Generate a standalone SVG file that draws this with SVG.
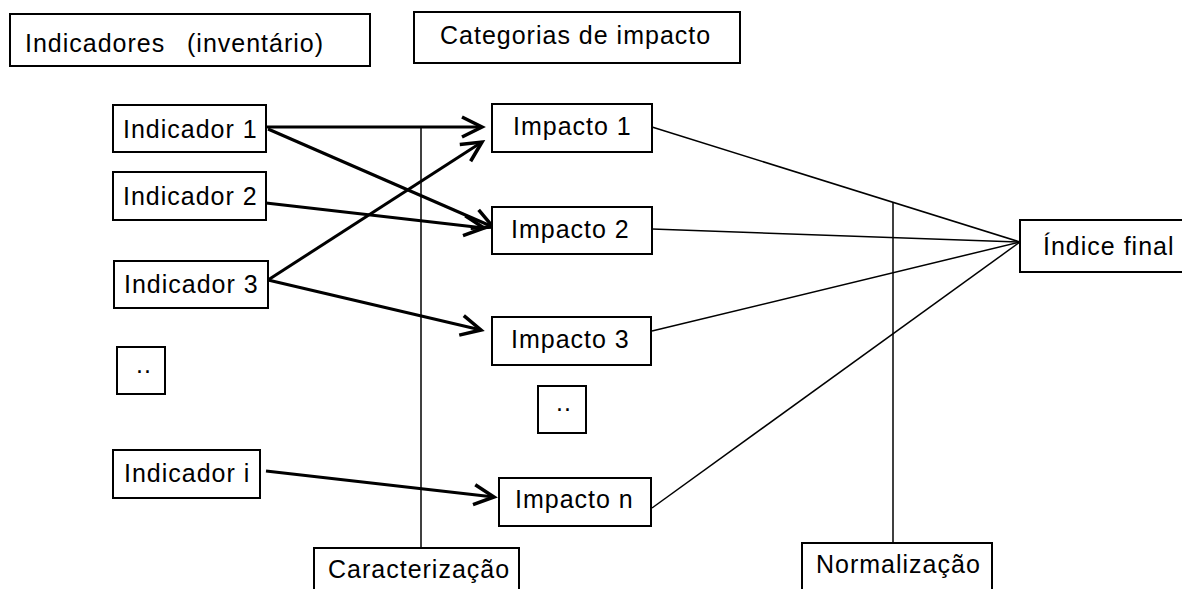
<svg xmlns="http://www.w3.org/2000/svg" width="1182" height="589" viewBox="0 0 1182 589">
<style>
.box{fill:#fff;stroke:#000;stroke-width:2}
.t{font-family:"Liberation Sans",Arial,sans-serif;font-size:25px;letter-spacing:1px;fill:#000}
.thick{stroke:#000;stroke-width:3;fill:none}
.thin{stroke:#000;stroke-width:1.5;fill:none}
</style>
<defs>
<marker id="arr" markerUnits="userSpaceOnUse" viewBox="-24 -14 28 28" markerWidth="28" markerHeight="28" refX="0" refY="0" orient="auto" overflow="visible">
<path d="M-20,-10 L0,0 L-20,10" fill="none" stroke="#000" stroke-width="3.5" stroke-linejoin="miter"/>
</marker>
</defs>
<rect width="1182" height="589" fill="#fff"/>
<g id="connectors">
<line class="thin" x1="421" y1="127" x2="421" y2="548"/>
<line class="thin" x1="893" y1="202" x2="893" y2="543"/>
<line class="thin" x1="652" y1="127" x2="1020" y2="242"/>
<line class="thin" x1="652" y1="229" x2="1020" y2="242"/>
<line class="thin" x1="652" y1="331" x2="1020" y2="242"/>
<line class="thin" x1="652" y1="508" x2="1020" y2="242"/>
<line class="thick" x1="266" y1="127" x2="482" y2="127" marker-end="url(#arr)"/>
<line class="thick" x1="268" y1="129" x2="493" y2="227" marker-end="url(#arr)"/>
<line class="thick" x1="266" y1="203" x2="484" y2="228" marker-end="url(#arr)"/>
<line class="thick" x1="268" y1="280" x2="482" y2="142" marker-end="url(#arr)"/>
<line class="thick" x1="268" y1="280" x2="481" y2="330" marker-end="url(#arr)"/>
<line class="thick" x1="266" y1="471" x2="494" y2="497" marker-end="url(#arr)"/>
</g>
<g id="n-indicadores"><rect class="box" x="10" y="14" width="360" height="52"/><text class="t" x="25" y="52">Indicadores<tspan x="187">(inventário)</tspan></text></g>
<g id="n-categorias"><rect class="box" x="414" y="12" width="326" height="51"/><text class="t" x="440" y="44">Categorias de impacto</text></g>
<g id="n-ind1"><rect class="box" x="113" y="105" width="153" height="47"/><text class="t" x="123" y="138">Indicador 1</text></g>
<g id="n-ind2"><rect class="box" x="113" y="172" width="153" height="48"/><text class="t" x="123" y="205">Indicador 2</text></g>
<g id="n-ind3"><rect class="box" x="114" y="261" width="154" height="47"/><text class="t" x="124" y="293">Indicador 3</text></g>
<g id="n-inddots"><rect class="box" x="117" y="347" width="48" height="47"/><text class="t" x="136" y="373" font-size="14">..</text></g>
<g id="n-indi"><rect class="box" x="113" y="450" width="147" height="48"/><text class="t" x="124" y="482">Indicador i</text></g>
<g id="n-imp1"><rect class="box" x="492" y="104" width="160" height="48"/><text class="t" x="513" y="135">Impacto 1</text></g>
<g id="n-imp2"><rect class="box" x="492" y="207" width="160" height="47"/><text class="t" x="511" y="238">Impacto 2</text></g>
<g id="n-imp3"><rect class="box" x="492" y="317" width="159" height="48"/><text class="t" x="511" y="348">Impacto 3</text></g>
<g id="n-impdots"><rect class="box" x="538" y="386" width="48" height="47"/><text class="t" x="556" y="411" font-size="14">..</text></g>
<g id="n-impn"><rect class="box" x="499" y="478" width="152" height="48"/><text class="t" x="515" y="508">Impacto n</text></g>
<g id="n-indice"><rect class="box" x="1020" y="220" width="170" height="52"/><text class="t" x="1043" y="255">Índice final</text></g>
<g id="n-caract"><rect class="box" x="314" y="548" width="205" height="60"/><text class="t" x="328" y="578">Caracterização</text></g>
<g id="n-norm"><rect class="box" x="802" y="543" width="190" height="60"/><text class="t" x="816" y="573">Normalização</text></g>
</svg>
